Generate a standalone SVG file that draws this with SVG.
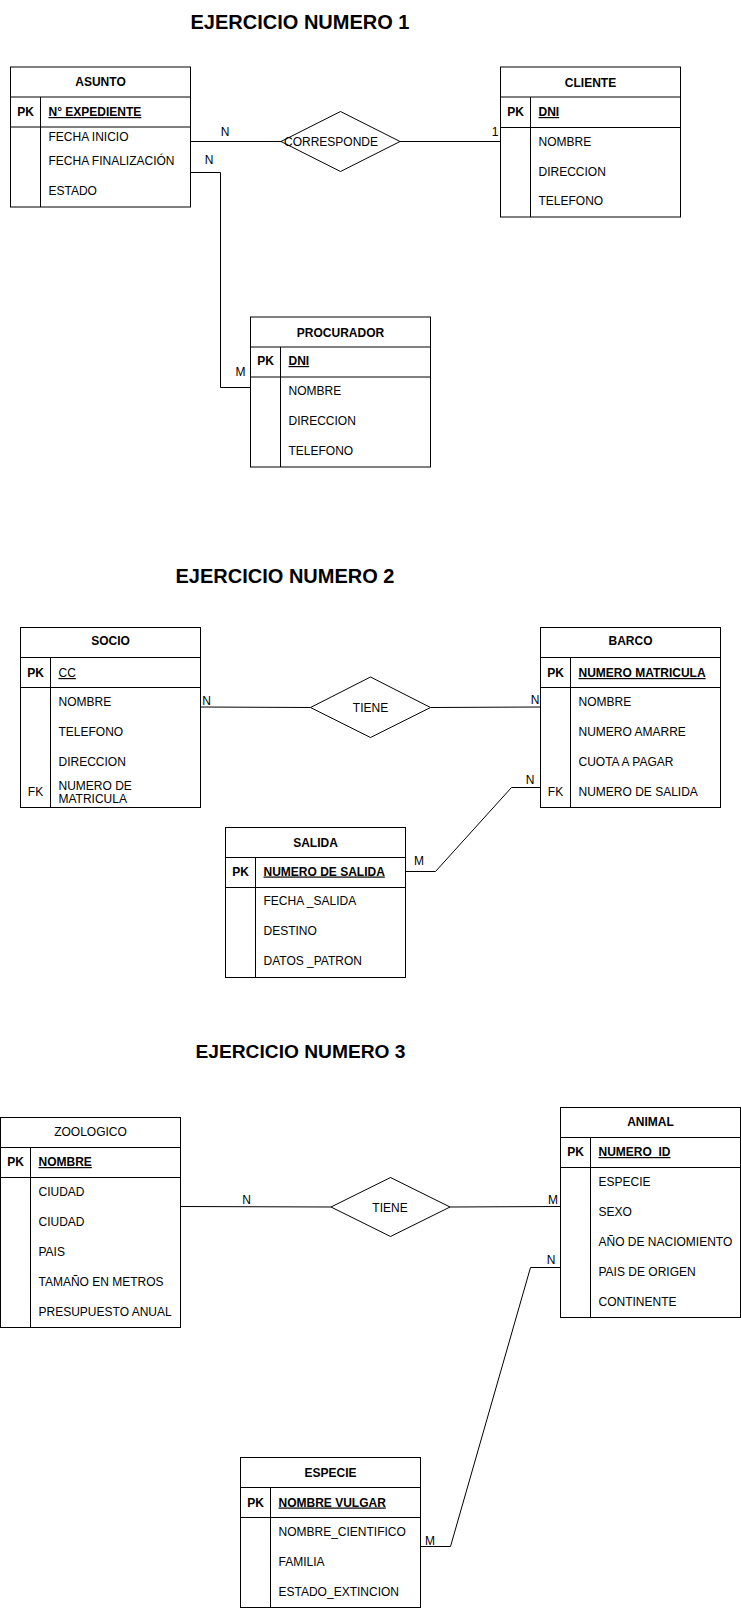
<svg xmlns="http://www.w3.org/2000/svg" width="741" height="1608" viewBox="0 0 741 1608">
<style>
.bg{fill:#fff}
.box{fill:#fff;stroke:#000;stroke-width:1}
.ln{fill:none;stroke:#000;stroke-width:1}
.con{fill:none;stroke:#000;stroke-width:1}
.dia{fill:#fff;stroke:#000;stroke-width:1}
text{font-family:"Liberation Sans",Arial,sans-serif;font-size:12px;fill:#000}
.title{font-size:20px;font-weight:bold;text-anchor:middle}
.hd{font-weight:bold;text-anchor:middle}
.pk{font-weight:bold;text-anchor:middle}
.key{font-weight:bold;text-decoration:underline}
.mid{text-anchor:middle}
</style>
<rect class="bg" x="0" y="0" width="741" height="1608"/>

<text class="title" x="300" y="29">EJERCICIO NUMERO 1</text>
<text class="title" x="285" y="582.7">EJERCICIO NUMERO 2</text>
<text class="title" x="300.5" y="1058.3" style="font-size:19.2px">EJERCICIO NUMERO 3</text>

<g id="connectors">
  <!-- Ejercicio 1 -->
  <line class="con" x1="190.5" y1="141.5" x2="281" y2="141.5"/>
  <line class="con" x1="400" y1="141.5" x2="500.5" y2="141.5"/>
  <polyline class="con" points="190.5,172.5 220.5,172.5 220.5,387.5 250.5,387.5"/>
  <!-- Ejercicio 2 -->
  <line class="con" x1="200.5" y1="707" x2="310.5" y2="707.5"/>
  <line class="con" x1="430.5" y1="707.5" x2="540.5" y2="707"/>
  <polyline class="con" points="540.5,787.5 511.5,787.5 435.5,871.5 405.5,871.5"/>
  <!-- Ejercicio 3 -->
  <line class="con" x1="180.5" y1="1206.5" x2="331" y2="1207"/>
  <line class="con" x1="450" y1="1207" x2="560.5" y2="1206.5"/>
  <polyline class="con" points="560.5,1267.5 530.5,1267.5 450.5,1546.5 420.5,1546.5"/>
  <!-- cardinality labels -->
  <text class="mid" x="225" y="135.5">N</text>
  <text class="mid" x="209" y="163.5">N</text>
  <text class="mid" x="495" y="136">1</text>
  <text class="mid" x="240.5" y="376">M</text>
  <text class="mid" x="206.5" y="704.5">N</text>
  <text class="mid" x="535" y="703.5">N</text>
  <text class="mid" x="530" y="783.5">N</text>
  <text class="mid" x="419" y="864.5">M</text>
  <text class="mid" x="246.5" y="1203.5">N</text>
  <text class="mid" x="553" y="1203.5">M</text>
  <text class="mid" x="551" y="1263.5">N</text>
  <text class="mid" x="430" y="1545">M</text>
</g>

<g id="rel-corresponde">
  <polygon class="dia" points="281,141.5 340.5,111.5 400,141.5 340.5,171.5"/>
  <text class="mid" x="331" y="146">CORRESPONDE</text>
</g>
<g id="rel-tiene-1">
  <polygon class="dia" points="310.5,707.5 370.5,677 430.5,707.5 370.5,737.5"/>
  <text class="mid" x="370.5" y="712">TIENE</text>
</g>
<g id="rel-tiene-2">
  <polygon class="dia" points="331,1207 390.5,1177.5 450,1207 390.5,1236.5"/>
  <text class="mid" x="390" y="1211.5">TIENE</text>
</g>

<g id="asunto">
  <rect class="box" x="10.5" y="67" width="180" height="140"/>
  <line class="ln" x1="10.5" y1="97" x2="190.5" y2="97"/>
  <line class="ln" x1="10.5" y1="127" x2="190.5" y2="127"/>
  <line class="ln" x1="40.5" y1="97" x2="40.5" y2="207"/>
  <text class="hd" x="100.5" y="86">ASUNTO</text>
  <text class="pk" x="25.5" y="116">PK</text>
  <text class="key" x="48.5" y="116">N° EXPEDIENTE</text>
  <text x="48.5" y="140.5">FECHA INICIO</text>
  <text x="48.5" y="164.5">FECHA FINALIZACIÓN</text>
  <text x="48.5" y="194.5">ESTADO</text>
</g>

<g id="cliente">
  <rect class="box" x="500.5" y="67" width="180" height="150"/>
  <line class="ln" x1="500.5" y1="97" x2="680.5" y2="97"/>
  <line class="ln" x1="500.5" y1="127.5" x2="680.5" y2="127.5"/>
  <line class="ln" x1="530.5" y1="97" x2="530.5" y2="217"/>
  <text class="hd" x="590.5" y="86.5">CLIENTE</text>
  <text class="pk" x="515.5" y="116">PK</text>
  <text class="key" x="538.5" y="116">DNI</text>
  <text x="538.5" y="146">NOMBRE</text>
  <text x="538.5" y="176">DIRECCION</text>
  <text x="538.5" y="205">TELEFONO</text>
</g>

<g id="procurador">
  <rect class="box" x="250.5" y="317" width="180" height="150"/>
  <line class="ln" x1="250.5" y1="347" x2="430.5" y2="347"/>
  <line class="ln" x1="250.5" y1="377" x2="430.5" y2="377"/>
  <line class="ln" x1="280.5" y1="347" x2="280.5" y2="467"/>
  <text class="hd" x="340.5" y="336.5">PROCURADOR</text>
  <text class="pk" x="265.5" y="365">PK</text>
  <text class="key" x="288.5" y="365">DNI</text>
  <text x="288.5" y="395">NOMBRE</text>
  <text x="288.5" y="425">DIRECCION</text>
  <text x="288.5" y="455">TELEFONO</text>
</g>

<g id="socio">
  <rect class="box" x="20.5" y="627.5" width="180" height="180"/>
  <line class="ln" x1="20.5" y1="657.5" x2="200.5" y2="657.5"/>
  <line class="ln" x1="20.5" y1="687.5" x2="200.5" y2="687.5"/>
  <line class="ln" x1="50.5" y1="657.5" x2="50.5" y2="807.5"/>
  <text class="hd" x="110.5" y="645">SOCIO</text>
  <text class="pk" x="35.5" y="677">PK</text>
  <text class="key" x="58.5" y="677" style="font-weight:normal">CC</text>
  <text x="58.5" y="706">NOMBRE</text>
  <text x="58.5" y="736">TELEFONO</text>
  <text x="58.5" y="766">DIRECCION</text>
  <text class="mid" x="35.5" y="796">FK</text>
  <text x="58.5" y="790">NUMERO DE</text>
  <text x="58.5" y="803">MATRICULA</text>
</g>

<g id="barco">
  <rect class="box" x="540.5" y="627.5" width="180" height="180"/>
  <line class="ln" x1="540.5" y1="657.5" x2="720.5" y2="657.5"/>
  <line class="ln" x1="540.5" y1="687.5" x2="720.5" y2="687.5"/>
  <line class="ln" x1="570.5" y1="657.5" x2="570.5" y2="807.5"/>
  <text class="hd" x="630.5" y="645">BARCO</text>
  <text class="pk" x="555.5" y="677">PK</text>
  <text class="key" x="578.5" y="677">NUMERO MATRICULA</text>
  <text x="578.5" y="706">NOMBRE</text>
  <text x="578.5" y="736">NUMERO AMARRE</text>
  <text x="578.5" y="766">CUOTA A PAGAR</text>
  <text class="mid" x="555.5" y="796">FK</text>
  <text x="578.5" y="796">NUMERO DE SALIDA</text>
</g>

<g id="salida">
  <rect class="box" x="225.5" y="827.5" width="180" height="150"/>
  <line class="ln" x1="225.5" y1="857.5" x2="405.5" y2="857.5"/>
  <line class="ln" x1="225.5" y1="887.5" x2="405.5" y2="887.5"/>
  <line class="ln" x1="255.5" y1="857.5" x2="255.5" y2="977.5"/>
  <text class="hd" x="315.5" y="846.5">SALIDA</text>
  <text class="pk" x="240.5" y="875.5">PK</text>
  <text class="key" x="263.5" y="875.5">NUMERO DE SALIDA</text>
  <text x="263.5" y="905">FECHA _SALIDA</text>
  <text x="263.5" y="935">DESTINO</text>
  <text x="263.5" y="965">DATOS _PATRON</text>
</g>

<g id="zoologico">
  <rect class="box" x="0.5" y="1117.5" width="180" height="210"/>
  <line class="ln" x1="0.5" y1="1147.5" x2="180.5" y2="1147.5"/>
  <line class="ln" x1="0.5" y1="1177.5" x2="180.5" y2="1177.5"/>
  <line class="ln" x1="30.5" y1="1147.5" x2="30.5" y2="1327.5"/>
  <text class="hd" x="90.5" y="1136" style="font-weight:normal">ZOOLOGICO</text>
  <text class="pk" x="15.5" y="1166">PK</text>
  <text class="key" x="38.5" y="1166">NOMBRE</text>
  <text x="38.5" y="1196">CIUDAD</text>
  <text x="38.5" y="1226">CIUDAD</text>
  <text x="38.5" y="1256">PAIS</text>
  <text x="38.5" y="1286">TAMAÑO EN METROS</text>
  <text x="38.5" y="1316">PRESUPUESTO ANUAL</text>
</g>

<g id="animal">
  <rect class="box" x="560.5" y="1107.5" width="180" height="210"/>
  <line class="ln" x1="560.5" y1="1137.5" x2="740.5" y2="1137.5"/>
  <line class="ln" x1="560.5" y1="1167.5" x2="740.5" y2="1167.5"/>
  <line class="ln" x1="590.5" y1="1137.5" x2="590.5" y2="1317.5"/>
  <text class="hd" x="650.5" y="1126">ANIMAL</text>
  <text class="pk" x="575.5" y="1156">PK</text>
  <text class="key" x="598.5" y="1156">NUMERO_ID</text>
  <text x="598.5" y="1186">ESPECIE</text>
  <text x="598.5" y="1216">SEXO</text>
  <text x="598.5" y="1246">AÑO DE NACIOMIENTO</text>
  <text x="598.5" y="1276">PAIS DE ORIGEN</text>
  <text x="598.5" y="1306">CONTINENTE</text>
</g>

<g id="especie">
  <rect class="box" x="240.5" y="1457.5" width="180" height="150"/>
  <line class="ln" x1="240.5" y1="1487.5" x2="420.5" y2="1487.5"/>
  <line class="ln" x1="240.5" y1="1517.5" x2="420.5" y2="1517.5"/>
  <line class="ln" x1="270.5" y1="1487.5" x2="270.5" y2="1607.5"/>
  <text class="hd" x="330.5" y="1476.5">ESPECIE</text>
  <text class="pk" x="255.5" y="1506.5">PK</text>
  <text class="key" x="278.5" y="1506.5">NOMBRE VULGAR</text>
  <text x="278.5" y="1536">NOMBRE_CIENTIFICO</text>
  <text x="278.5" y="1566">FAMILIA</text>
  <text x="278.5" y="1596">ESTADO_EXTINCION</text>
</g>
</svg>
